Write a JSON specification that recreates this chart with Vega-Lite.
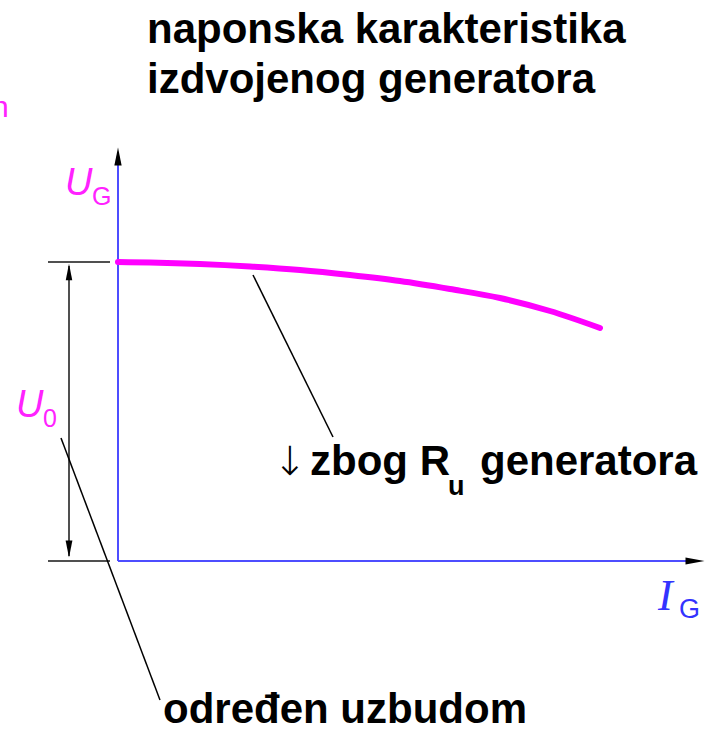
{
  "$schema": "https://vega.github.io/schema/vega-lite/v6.json",
  "width": 713,
  "height": 732,
  "padding": 0,
  "autosize": {"type": "fit", "contains": "padding"},
  "background": "white",
  "config": {"view": {"stroke": null}},
  "encoding": {
    "x": {"field": "x", "type": "quantitative", "scale": {"domain": [-118, 595], "nice": false, "zero": false}, "axis": null},
    "y": {"field": "y", "type": "quantitative", "scale": {"domain": [-171, 561], "nice": false, "zero": false}, "axis": null}
  },
  "layer": [
    {
      "data": {"values": [
        {"x": 0, "y": 0, "x2": 0, "y2": 396},
        {"x": 0, "y": 0, "x2": 568, "y2": 0}
      ]},
      "mark": {"type": "rule", "color": "#4d4dff", "strokeWidth": 2},
      "encoding": {"x2": {"field": "x2"}, "y2": {"field": "y2"}}
    },
    {
      "data": {"values": [
        {"x": -70, "y": 299, "x2": -8, "y2": 299},
        {"x": -70, "y": 0, "x2": -8, "y2": 0},
        {"x": -49, "y": 5, "x2": -49, "y2": 295}
      ]},
      "mark": {"type": "rule", "color": "#505050", "strokeWidth": 2},
      "encoding": {"x2": {"field": "x2"}, "y2": {"field": "y2"}}
    },
    {
      "data": {"values": [
        {"x": 135, "y": 286, "x2": 215, "y2": 124},
        {"x": -57, "y": 123, "x2": 42, "y2": -139}
      ]},
      "mark": {"type": "rule", "color": "black", "strokeWidth": 1.5},
      "encoding": {"x2": {"field": "x2"}, "y2": {"field": "y2"}}
    },
    {
      "data": {"values": [
        {"x": 0, "y": 299},
        {"x": 32, "y": 298.5},
        {"x": 82, "y": 297},
        {"x": 132, "y": 294.5},
        {"x": 182, "y": 291},
        {"x": 232, "y": 286},
        {"x": 282, "y": 280},
        {"x": 332, "y": 272},
        {"x": 382, "y": 263},
        {"x": 432, "y": 250},
        {"x": 482, "y": 233}
      ]},
      "mark": {"type": "line", "color": "#ff00ff", "strokeWidth": 6, "interpolate": "monotone", "strokeCap": "round"},
      "encoding": {}
    },
    {
      "data": {"values": [
        {"x": 0, "y": 404.5, "dir": "up", "sz": 529},
        {"x": -49, "y": 289, "dir": "up", "sz": 420},
        {"x": -49, "y": 12, "dir": "down", "sz": 460},
        {"x": 577, "y": 0, "dir": "right", "sz": 576}
      ]},
      "mark": {"type": "point", "filled": true, "color": "black", "opacity": 1, "strokeWidth": 0},
      "encoding": {
        "shape": {"field": "dir", "type": "nominal", "legend": null,
          "scale": {"domain": ["up", "down", "right"], "range": ["M0,-1L0.4,1L-0.4,1Z", "M0,1L0.4,-1L-0.4,-1Z", "M1,0L-1,-0.37L-1,0.37Z"]}},
        "size": {"field": "sz", "type": "quantitative", "legend": null, "scale": {"type": "identity"}}
      }
    },
    {
      "data": {"values": [
        {"x": 29, "y": 518, "t": "naponska karakteristika"},
        {"x": 29, "y": 468, "t": "izdvojenog generatora"},
        {"x": 45, "y": -162, "t": "određen uzbudom"},
        {"x": 192, "y": 86, "t": "zbog R"},
        {"x": 362, "y": 86, "t": "generatora"}
      ]},
      "mark": {"type": "text", "align": "left", "baseline": "alphabetic", "font": "Liberation Sans", "fontWeight": "bold", "fontSize": 42, "color": "black"},
      "encoding": {"text": {"field": "t"}}
    },
    {
      "data": {"values": [{"x": 330, "y": 66, "t": "u"}]},
      "mark": {"type": "text", "align": "left", "baseline": "alphabetic", "font": "Liberation Sans", "fontWeight": "bold", "fontSize": 27, "color": "black"},
      "encoding": {"text": {"field": "t"}}
    },
    {
      "data": {"values": [{"x": 155, "y": 86, "t": "↓"}]},
      "mark": {"type": "text", "align": "left", "baseline": "alphabetic", "font": "DejaVu Sans", "fontWeight": 200, "fontSize": 40, "color": "black"},
      "encoding": {"text": {"field": "t"}}
    },
    {
      "data": {"values": [
        {"x": -53, "y": 366, "t": "U"},
        {"x": -102, "y": 144, "t": "U"}
      ]},
      "mark": {"type": "text", "align": "left", "baseline": "alphabetic", "font": "Liberation Sans", "fontStyle": "italic", "fontSize": 38, "color": "#ff22ff"},
      "encoding": {"text": {"field": "t"}}
    },
    {
      "data": {"values": [
        {"x": -26, "y": 356, "t": "G"},
        {"x": -75, "y": 134, "t": "0"}
      ]},
      "mark": {"type": "text", "align": "left", "baseline": "alphabetic", "font": "Liberation Sans", "fontSize": 25, "color": "#ff22ff"},
      "encoding": {"text": {"field": "t"}}
    },
    {
      "data": {"values": [{"x": -126, "y": 444, "t": "n"}]},
      "mark": {"type": "text", "align": "left", "baseline": "alphabetic", "font": "Liberation Sans", "fontSize": 30, "color": "#ff22ff", "clip": true},
      "encoding": {"text": {"field": "t"}}
    },
    {
      "data": {"values": [{"x": 540, "y": -49, "t": "I"}]},
      "mark": {"type": "text", "align": "left", "baseline": "alphabetic", "font": "Liberation Serif", "fontStyle": "italic", "fontSize": 44, "color": "#3333ff"},
      "encoding": {"text": {"field": "t"}}
    },
    {
      "data": {"values": [{"x": 561, "y": -57, "t": "G"}]},
      "mark": {"type": "text", "align": "left", "baseline": "alphabetic", "font": "Liberation Sans", "fontSize": 27, "color": "#3333ff"},
      "encoding": {"text": {"field": "t"}}
    }
  ]
}
